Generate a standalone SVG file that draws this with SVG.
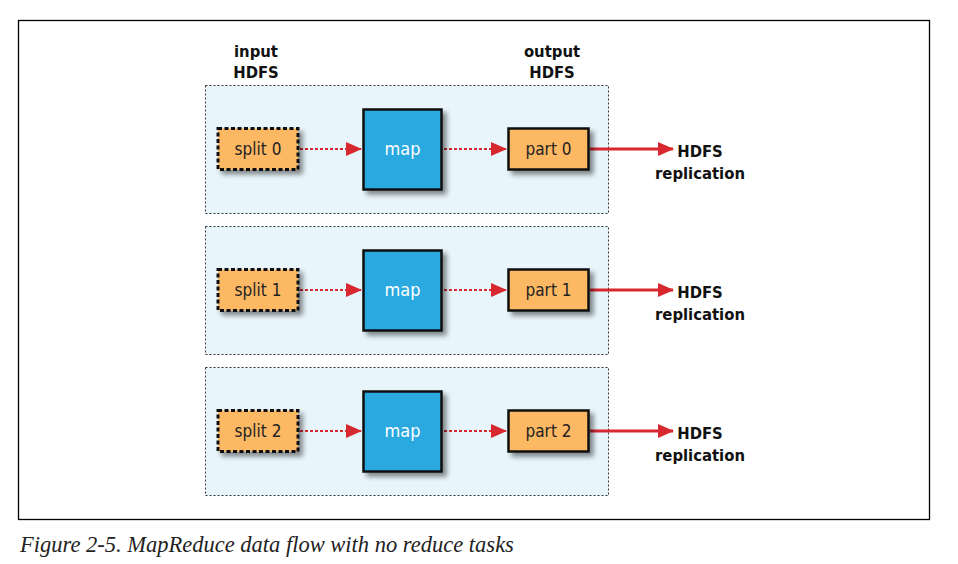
<svg xmlns="http://www.w3.org/2000/svg" width="958" height="564" viewBox="0 0 958 564">
<defs>
<style>
.panel{fill:#e8f5fb;stroke:#333;stroke-width:1;stroke-dasharray:2,2}
.split{fill:#fdb863;stroke:#111;stroke-width:3;stroke-dasharray:4,2.5}
.part{fill:#fdb863;stroke:#111;stroke-width:2.5}
.map{fill:#29a9e1;stroke:#111;stroke-width:2.5}
.lbl{font-family:"DejaVu Sans Condensed","DejaVu Sans",sans-serif;font-size:17px;fill:#222;text-anchor:middle}
.mlbl{font-family:"DejaVu Sans Condensed","DejaVu Sans",sans-serif;font-size:18px;fill:#fff;text-anchor:middle}
.hd{font-family:"DejaVu Sans Condensed","DejaVu Sans",sans-serif;font-weight:bold;font-size:16.5px;fill:#111;text-anchor:middle}
.dot{stroke:#d7282f;stroke-width:2.2;stroke-dasharray:3,2;fill:none}
.solid{stroke:#d7282f;stroke-width:3;fill:none}
.cap{font-family:"Liberation Serif",serif;font-style:italic;font-size:22.5px;fill:#222}
</style>
<filter id="sh" x="-20%" y="-20%" width="150%" height="150%">
<feGaussianBlur in="SourceAlpha" stdDeviation="2.5"/>
<feOffset dx="4" dy="4" result="b"/>
<feComponentTransfer><feFuncA type="linear" slope="0.45"/></feComponentTransfer>
<feMerge><feMergeNode/><feMergeNode in="SourceGraphic"/></feMerge>
</filter>
<marker id="ah" markerWidth="16" markerHeight="14" refX="15" refY="7" orient="auto" markerUnits="userSpaceOnUse">
<path d="M0,0 L16,7 L0,14 Z" fill="#d7282f"/>
</marker>
</defs>
<rect x="18.5" y="20.5" width="911" height="499" fill="#fff" stroke="#000" stroke-width="1.3"/>
<text class="hd" x="256" y="57">input</text>
<text class="hd" x="256" y="78">HDFS</text>
<text class="hd" x="552" y="57">output</text>
<text class="hd" x="552" y="78">HDFS</text>

<g id="panel0">
<rect class="panel" x="205.5" y="85.5" width="403" height="128"/>
</g>
<g id="panel1">
<rect class="panel" x="205.5" y="226.5" width="403" height="128"/>
</g>
<g id="panel2">
<rect class="panel" x="205.5" y="367.5" width="403" height="128"/>
</g>

<g id="connectors">
<line class="dot" x1="300" y1="149" x2="361" y2="149" marker-end="url(#ah)"/>
<line class="dot" x1="444" y1="149" x2="506" y2="149" marker-end="url(#ah)"/>
<line class="solid" x1="590" y1="149" x2="673" y2="149" marker-end="url(#ah)"/>
<line class="dot" x1="300" y1="290" x2="361" y2="290" marker-end="url(#ah)"/>
<line class="dot" x1="444" y1="290" x2="506" y2="290" marker-end="url(#ah)"/>
<line class="solid" x1="590" y1="290" x2="673" y2="290" marker-end="url(#ah)"/>
<line class="dot" x1="300" y1="431" x2="361" y2="431" marker-end="url(#ah)"/>
<line class="dot" x1="444" y1="431" x2="506" y2="431" marker-end="url(#ah)"/>
<line class="solid" x1="590" y1="431" x2="673" y2="431" marker-end="url(#ah)"/>
</g>

<g id="split0"><rect class="split" x="218" y="128.5" width="80" height="41" filter="url(#sh)"/><text class="lbl" x="258" y="155">split 0</text></g>
<g id="map0"><rect class="map" x="363.5" y="109.5" width="78" height="80" filter="url(#sh)"/><text class="mlbl" x="402.5" y="155">map</text></g>
<g id="part0"><rect class="part" x="508.5" y="128.5" width="80" height="41" filter="url(#sh)"/><text class="lbl" x="548.5" y="155">part 0</text></g>
<g id="repl0"><text class="hd" x="700" y="157">HDFS</text><text class="hd" x="700" y="179">replication</text></g>

<g id="split1"><rect class="split" x="218" y="269.5" width="80" height="41" filter="url(#sh)"/><text class="lbl" x="258" y="296">split 1</text></g>
<g id="map1"><rect class="map" x="363.5" y="250.5" width="78" height="80" filter="url(#sh)"/><text class="mlbl" x="402.5" y="296">map</text></g>
<g id="part1"><rect class="part" x="508.5" y="269.5" width="80" height="41" filter="url(#sh)"/><text class="lbl" x="548.5" y="296">part 1</text></g>
<g id="repl1"><text class="hd" x="700" y="298">HDFS</text><text class="hd" x="700" y="320">replication</text></g>

<g id="split2"><rect class="split" x="218" y="410.5" width="80" height="41" filter="url(#sh)"/><text class="lbl" x="258" y="437">split 2</text></g>
<g id="map2"><rect class="map" x="363.5" y="391.5" width="78" height="80" filter="url(#sh)"/><text class="mlbl" x="402.5" y="437">map</text></g>
<g id="part2"><rect class="part" x="508.5" y="410.5" width="80" height="41" filter="url(#sh)"/><text class="lbl" x="548.5" y="437">part 2</text></g>
<g id="repl2"><text class="hd" x="700" y="439">HDFS</text><text class="hd" x="700" y="461">replication</text></g>

<text class="cap" x="20" y="552">Figure 2-5. MapReduce data flow with no reduce tasks</text>
</svg>
